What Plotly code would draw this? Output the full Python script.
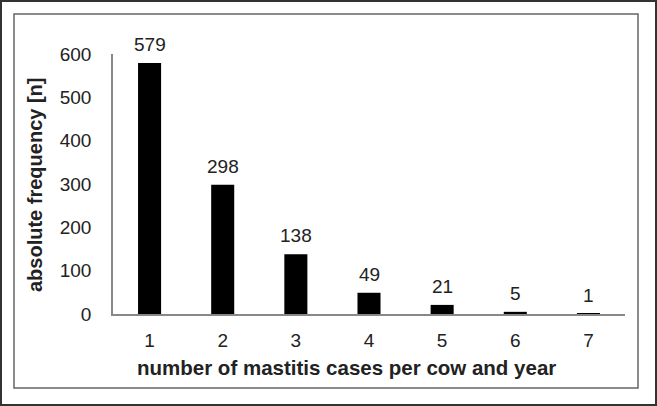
import plotly.graph_objects as go

categories = ["1", "2", "3", "4", "5", "6", "7"]
values = [579, 298, 138, 49, 21, 5, 1]
y_ticks = [0, 100, 200, 300, 400, 500, 600]

W, H = 657, 406
L, R, T, B = 113, 625, 54, 314
pw, ph = R - L, B - T

def px(x):
    return (x - L) / pw

def py(y):
    return (B - y) / ph

FONT = "Liberation Sans, Arial, sans-serif"
FS = 19

fig = go.Figure(go.Bar(
    x=categories, y=values, marker=dict(color="black", line=dict(width=0)),
    width=0.315, hoverinfo="skip",
))

for i, v in enumerate(values):
    fig.add_annotation(x=i, y=v, xref="x", yref="y", text=str(v), showarrow=False,
                       yanchor="bottom", yshift=6, font=dict(size=FS, color="#222"))

fig.add_annotation(x=px(346), y=py(367), xref="paper", yref="paper",
                   text="<b>number of mastitis cases per cow and year</b>", showarrow=False,
                   xanchor="center", yanchor="middle", font=dict(size=20.5, color="#222"))
fig.add_annotation(x=px(35), y=py(185), xref="paper", yref="paper",
                   text="<b>absolute frequency [n]</b>", showarrow=False, textangle=-90,
                   xanchor="center", yanchor="middle", font=dict(size=20, color="#222"))

fig.add_shape(type="rect", xref="paper", yref="paper",
              x0=px(1), x1=px(656), y0=py(1), y1=py(405),
              line=dict(color="#333", width=2), layer="below")
fig.add_shape(type="rect", xref="paper", yref="paper",
              x0=px(14), x1=px(638), y0=py(14), y1=py(388),
              line=dict(color="#666", width=1.5), layer="below")

fig.update_layout(
    width=W, height=H,
    margin=dict(l=L, r=W - R, t=T, b=H - B, autoexpand=False),
    paper_bgcolor="white", plot_bgcolor="white",
    font=dict(family=FONT, size=FS, color="#222"),
    showlegend=False, bargap=0.685,
    xaxis=dict(showline=True, linecolor="#888", linewidth=1.5, ticks="",
               showgrid=False, zeroline=False, ticklabelstandoff=8,
               tickfont=dict(size=FS)),
    yaxis=dict(range=[0, 600], tickvals=y_ticks, showline=True, linecolor="#888",
               linewidth=1.5, ticks="", showgrid=False, zeroline=False,
               ticklabelstandoff=16, tickfont=dict(size=FS)),
)

fig.write_html("out.html")
